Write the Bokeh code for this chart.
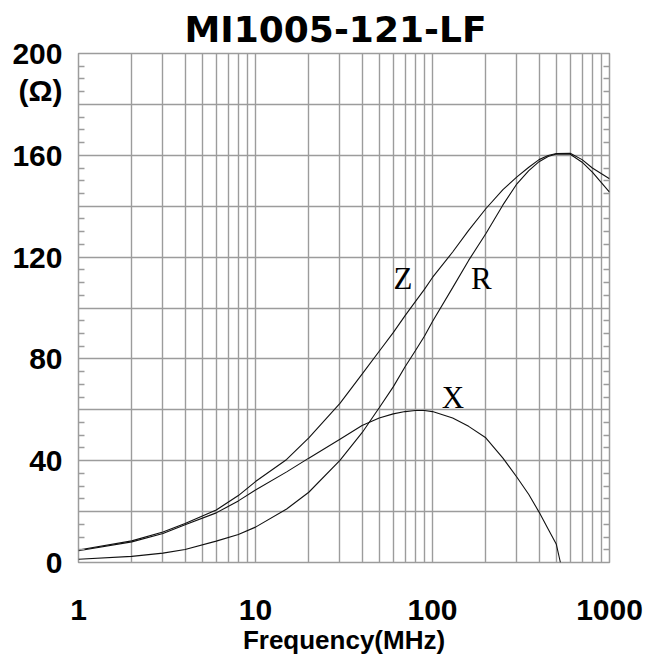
from bokeh.plotting import figure
from bokeh.models import Range1d, FixedTicker, LinearAxis, Label, PrintfTickFormatter
from bokeh.embed import file_html
from bokeh.resources import INLINE

# ---- data ----
freq = [1, 2, 3, 4, 6, 8, 10, 15, 20, 30, 40, 50, 60, 70, 80, 90, 100, 130, 160, 200,
        250, 300, 350, 400, 450, 500, 600, 700, 800, 1000]
z_ohm = [4.9, 8.5, 12.0, 15.3, 20.6, 26.3, 31.8, 40.5, 49.0, 62.5, 74.0, 83.0, 90.3,
         97.0, 102.5, 107.3, 112.0, 122.0, 130.5, 139.0, 146.5, 151.5, 155.3, 158.3,
         159.9, 160.7, 160.8, 158.3, 155.0, 150.8]
r_ohm = [1.3, 2.4, 3.7, 5.1, 8.4, 11.0, 13.9, 21.0, 27.6, 40.1, 51.0, 60.8, 69.0, 76.9,
         83.2, 88.9, 94.7, 108.0, 118.7, 129.2, 140.5, 148.8, 154.0, 157.5, 159.5, 160.5,
         160.4, 157.3, 153.4, 145.5]
freq_x = [1, 2, 3, 4, 6, 8, 10, 15, 20, 30, 40, 50, 60, 70, 80, 90, 100, 130, 160, 200,
          250, 300, 350, 400, 450, 500, 528]
x_ohm = [4.6, 8.1, 11.4, 14.8, 19.5, 24.2, 28.5, 35.6, 41.0, 48.4, 53.8, 56.8, 58.4,
         59.3, 59.7, 59.7, 59.3, 56.8, 53.5, 49.0, 41.0, 33.5, 26.7, 19.8, 13.2, 7.3, 0.0]

x_tick_values = [1, 10, 100, 1000]
y_tick_values = [0, 40, 80, 120, 160, 200]
y_grid_values = list(range(0, 201, 20))
y_minor_values = [v for v in range(0, 201, 5) if v % 20 != 0]
x_grid_values = [d * k for d in (1, 10, 100) for k in range(1, 10)] + [1000]

title_text = "MI1005-121-LF"
unit_text = "(Ω)"
unit_tick = 185.5
x_label = "Frequency(MHz)"

GRID = "#9c9c9c"
TICK_FONT = "Liberation Sans"

p = figure(x_axis_type="log", x_range=Range1d(1, 1000), y_range=Range1d(0, 200),
           frame_width=531, frame_height=509,
           min_border_left=78, min_border_right=41, min_border_top=53, min_border_bottom=103,
           output_backend="svg", toolbar_location=None, tools="")
p.background_fill_color = "white"
p.border_fill_color = "white"
p.outline_line_color = GRID
p.outline_line_width = 1.5

# title
p.title.text = title_text
p.title.align = "left"
p.title.offset = 106
p.title.standoff = 8
p.title.text_font = "DejaVu Sans"
p.title.text_font_style = "bold"
p.title.text_font_size = "36px"
p.title.text_color = "black"

# grids
p.xgrid.ticker = FixedTicker(ticks=x_grid_values)
p.ygrid.ticker = FixedTicker(ticks=y_grid_values)
for g in (p.xgrid, p.ygrid):
    g.grid_line_color = GRID
    g.grid_line_width = 1.4

# x axis
xa = p.xaxis[0]
xa.ticker = FixedTicker(ticks=x_tick_values)
xa.formatter = PrintfTickFormatter(format="%d")
xa.axis_line_color = None
xa.major_tick_in = 0
xa.major_tick_out = 0
xa.minor_tick_in = 0
xa.minor_tick_out = 0
xa.major_label_standoff = 37
xa.major_label_text_font = TICK_FONT
xa.major_label_text_font_style = "bold"
xa.major_label_text_font_size = "30px"
xa.major_label_text_color = "black"
xa.axis_label = x_label
xa.axis_label_text_font = TICK_FONT
xa.axis_label_text_font_style = "bold"
xa.axis_label_text_font_size = "26px"
xa.axis_label_text_color = "black"
xa.axis_label_standoff = 2

# y axis (left); the unit sits as an extra label just below 200
ya = p.yaxis[0]
ya.ticker = FixedTicker(ticks=y_tick_values + [unit_tick], minor_ticks=y_minor_values)
ya.formatter = PrintfTickFormatter(format="%d")
ya.major_label_overrides = {unit_tick: unit_text}
ya.axis_line_color = None
ya.major_tick_in = 0
ya.major_tick_out = 0
ya.minor_tick_in = 6
ya.minor_tick_out = 0
ya.minor_tick_line_color = GRID
ya.minor_tick_line_width = 1.3
ya.major_label_standoff = 16
ya.major_label_text_font = TICK_FONT
ya.major_label_text_font_style = "bold"
ya.major_label_text_font_size = "30px"
ya.major_label_text_color = "black"

# y axis (right) with inner minor ticks only
ra = LinearAxis(ticker=FixedTicker(ticks=[], minor_ticks=y_minor_values))
ra.axis_line_color = None
ra.major_tick_in = 0
ra.major_tick_out = 0
ra.minor_tick_in = 6
ra.minor_tick_out = 0
ra.minor_tick_line_color = GRID
ra.minor_tick_line_width = 1.3
ra.major_label_text_font_size = "10px"
p.add_layout(ra, "right")

# curves
LINE = "#111111"
p.line(freq, z_ohm, line_color=LINE, line_width=1.1)
p.line(freq, r_ohm, line_color=LINE, line_width=1.1)
p.line(freq_x, x_ohm, line_color=LINE, line_width=1.1)

# curve labels
serif = "Liberation Serif"
for txt, fx, fy in (("Z", 68.1, 111.7), ("R", 189.0, 111.4), ("X", 130.4, 64.9)):
    p.add_layout(Label(x=fx, y=fy, text=txt, text_align="center", text_baseline="alphabetic",
                       text_font=serif, text_font_size="31px", text_color="black"))

open("out.html", "w").write(file_html(p, INLINE))
